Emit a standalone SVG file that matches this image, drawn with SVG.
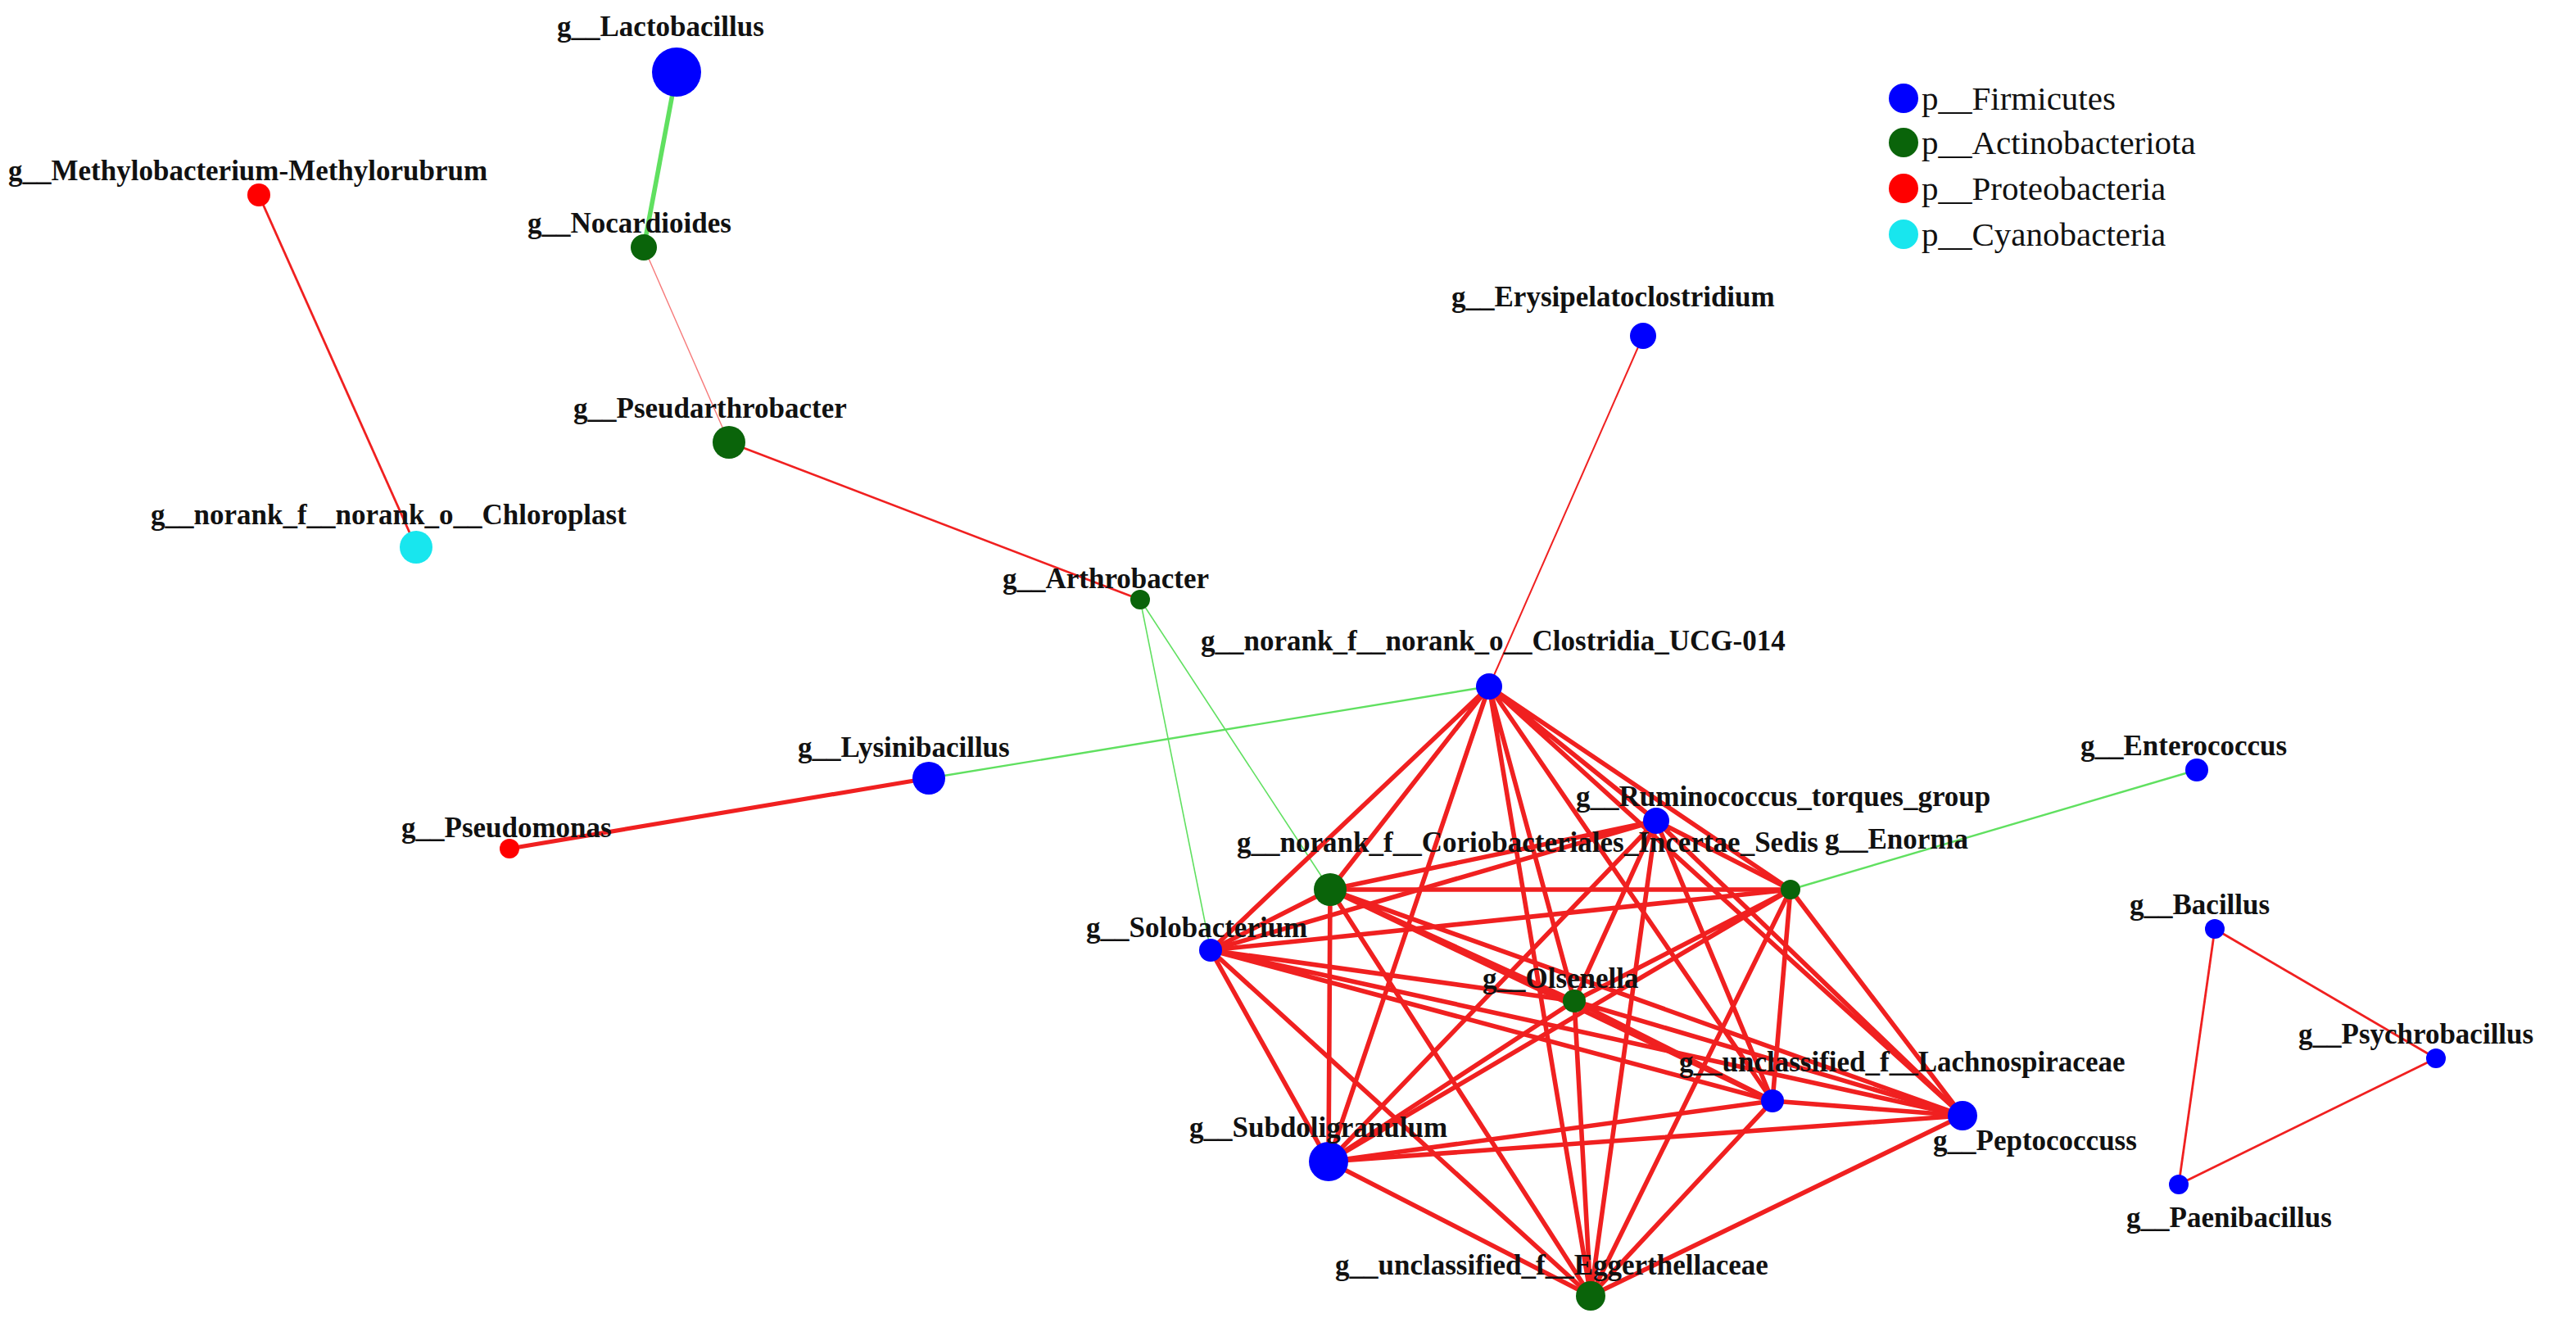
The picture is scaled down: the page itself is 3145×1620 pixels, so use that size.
<svg xmlns="http://www.w3.org/2000/svg" width="3145" height="1620" viewBox="0 0 3145 1620">
<style>
.l{font-family:"Liberation Serif",serif;font-weight:bold;font-size:17.5px;fill:#111}
.lg{font-family:"Liberation Serif",serif;font-size:20.5px;fill:#111}
.r{stroke:#f02020;fill:none}
.g{stroke:#60e060;fill:none}
.f{fill:#0000ff}.a{fill:#0a640a}.p{fill:#ff0000}.c{fill:#18e6ee}
</style>
<rect width="3145" height="1620" fill="#fff"/>
<g transform="scale(2)">
<g id="edges">
<line class="g" x1="413" y1="44" x2="393" y2="151" stroke-width="2.8"/>
<line class="r" x1="158" y1="119" x2="254" y2="334" stroke-width="1.4"/>
<line class="r" x1="393" y1="151" x2="445" y2="270" stroke-width="0.7" stroke-opacity="0.6"/>
<line class="r" x1="445" y1="270" x2="696" y2="366" stroke-width="1.3"/>
<line class="r" x1="1003" y1="205" x2="909" y2="419" stroke-width="1"/>
<line class="g" x1="696" y1="366" x2="739" y2="580" stroke-width="0.8"/>
<line class="g" x1="696" y1="366" x2="812" y2="543" stroke-width="0.8"/>
<line class="g" x1="567" y1="475" x2="909" y2="419" stroke-width="1.2"/>
<line class="r" x1="311" y1="518" x2="567" y2="475" stroke-width="2.6"/>
<line class="g" x1="1341" y1="470" x2="1093" y2="543" stroke-width="1.2"/>
<line class="r" x1="1352" y1="567" x2="1487" y2="646" stroke-width="1.4"/>
<line class="r" x1="1352" y1="567" x2="1330" y2="723" stroke-width="1.4"/>
<line class="r" x1="1330" y1="723" x2="1487" y2="646" stroke-width="1.4"/>
<g class="r" stroke-width="2.8">
<path d="M909 419L1011 501M909 419L812 543M909 419L1093 543M909 419L739 580M909 419L961 611M909 419L1082 672M909 419L1198 681M909 419L811 709M909 419L971 791"/>
<path d="M1011 501L812 543M1011 501L1093 543M1011 501L739 580M1011 501L961 611M1011 501L1082 672M1011 501L1198 681M1011 501L811 709M1011 501L971 791"/>
<path d="M812 543L1093 543M812 543L739 580M812 543L961 611M812 543L1082 672M812 543L1198 681M812 543L811 709M812 543L971 791"/>
<path d="M1093 543L739 580M1093 543L961 611M1093 543L1082 672M1093 543L1198 681M1093 543L811 709M1093 543L971 791"/>
<path d="M739 580L961 611M739 580L1082 672M739 580L1198 681M739 580L811 709M739 580L971 791"/>
<path d="M961 611L1082 672M961 611L1198 681M961 611L811 709M961 611L971 791"/>
<path d="M1082 672L1198 681M1082 672L811 709M1082 672L971 791"/>
<path d="M1198 681L811 709M1198 681L971 791M811 709L971 791"/>
</g>
</g>
<g id="n-lactobacillus"><circle class="f" cx="413" cy="44" r="15"/><text class="l" x="340" y="22">g__Lactobacillus</text></g>
<g id="n-methylo"><circle class="p" cx="158" cy="119" r="7"/><text class="l" x="5" y="110">g__Methylobacterium-Methylorubrum</text></g>
<g id="n-nocardioides"><circle class="a" cx="393" cy="151" r="8"/><text class="l" x="322" y="142">g__Nocardioides</text></g>
<g id="n-erysipelato"><circle class="f" cx="1003" cy="205" r="8"/><text class="l" x="886" y="187">g__Erysipelatoclostridium</text></g>
<g id="n-pseudarthro"><circle class="a" cx="445" cy="270" r="10"/><text class="l" x="350" y="255">g__Pseudarthrobacter</text></g>
<g id="n-chloroplast"><circle class="c" cx="254" cy="334" r="10"/><text class="l" x="92" y="320">g__norank_f__norank_o__Chloroplast</text></g>
<g id="n-arthrobacter"><circle class="a" cx="696" cy="366" r="6"/><text class="l" x="612" y="359">g__Arthrobacter</text></g>
<g id="n-clostridia"><circle class="f" cx="909" cy="419" r="8"/><text class="l" x="733" y="397">g__norank_f__norank_o__Clostridia_UCG-014</text></g>
<g id="n-lysini"><circle class="f" cx="567" cy="475" r="10"/><text class="l" x="487" y="462">g__Lysinibacillus</text></g>
<g id="n-entero"><circle class="f" cx="1341" cy="470" r="7"/><text class="l" x="1270" y="461">g__Enterococcus</text></g>
<g id="n-pseudomonas"><circle class="p" cx="311" cy="518" r="6"/><text class="l" x="245" y="511">g__Pseudomonas</text></g>
<g id="n-rumino"><circle class="f" cx="1011" cy="501" r="8"/><text class="l" x="962" y="492">g__Ruminococcus_torques_group</text></g>
<g id="n-corio"><circle class="a" cx="812" cy="543" r="10"/><text class="l" x="755" y="520" textLength="355" lengthAdjust="spacingAndGlyphs">g__norank_f__Coriobacteriales_Incertae_Sedis</text></g>
<g id="n-enorma"><circle class="a" cx="1093" cy="543" r="6"/><text class="l" x="1114" y="518">g__Enorma</text></g>
<g id="n-bacillus"><circle class="f" cx="1352" cy="567" r="6"/><text class="l" x="1300" y="558">g__Bacillus</text></g>
<g id="n-solo"><circle class="f" cx="739" cy="580" r="7"/><text class="l" x="663" y="572">g__Solobacterium</text></g>
<g id="n-olsenella"><circle class="a" cx="961" cy="611" r="7"/><text class="l" x="905" y="603">g__Olsenella</text></g>
<g id="n-lachno"><circle class="f" cx="1082" cy="672" r="7"/><text class="l" x="1025" y="654">g__unclassified_f__Lachnospiraceae</text></g>
<g id="n-psychro"><circle class="f" cx="1487" cy="646" r="6"/><text class="l" x="1403" y="637">g__Psychrobacillus</text></g>
<g id="n-subdo"><circle class="f" cx="811" cy="709" r="12"/><text class="l" x="726" y="694">g__Subdoligranulum</text></g>
<g id="n-pepto"><circle class="f" cx="1198" cy="681" r="9"/><text class="l" x="1180" y="702">g__Peptococcuss</text></g>
<g id="n-paeni"><circle class="f" cx="1330" cy="723" r="6"/><text class="l" x="1298" y="749">g__Paenibacillus</text></g>
<g id="n-egger"><circle class="a" cx="971" cy="791" r="9"/><text class="l" x="815" y="778">g__unclassified_f__Eggerthellaceae</text></g>
<g id="legend">
<circle class="f" cx="1162" cy="60" r="9"/><text class="lg" x="1173" y="67">p__Firmicutes</text>
<circle class="a" cx="1162" cy="87" r="9"/><text class="lg" x="1173" y="94">p__Actinobacteriota</text>
<circle class="p" cx="1162" cy="115" r="9"/><text class="lg" x="1173" y="122">p__Proteobacteria</text>
<circle class="c" cx="1162" cy="143" r="9"/><text class="lg" x="1173" y="150">p__Cyanobacteria</text>
</g>
</g>
</svg>
